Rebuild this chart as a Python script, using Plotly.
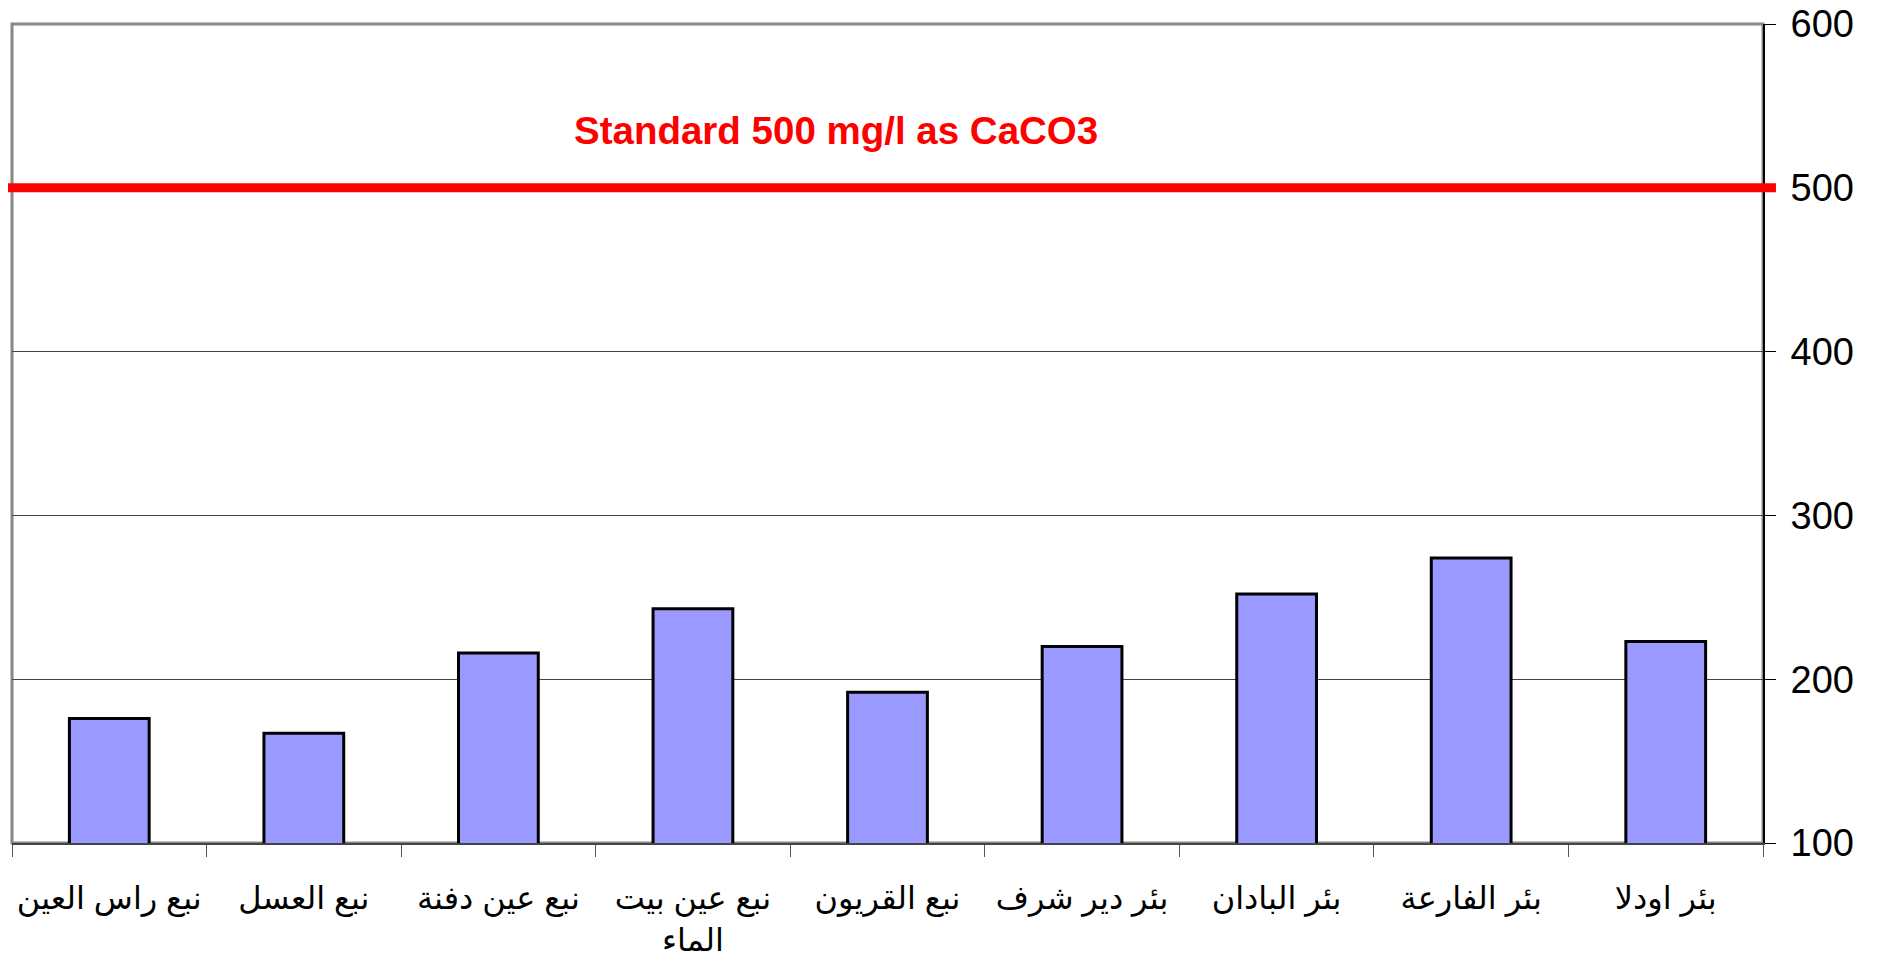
import plotly.graph_objects as go

categories = [
    "نبع راس العين",
    "نبع العسل",
    "نبع عين دفنة",
    "نبع عين بيت<br>الماء",
    "نبع القريون",
    "بئر دير شرف",
    "بئر البادان",
    "بئر الفارعة",
    "بئر اودلا",
]
values = [176, 167, 216, 243, 192, 220, 252, 274, 223]
standard_value = 500
standard_label = "Standard 500 mg/l as CaCO3"
y_ticks = [100, 200, 300, 400, 500, 600]

FONT = "Liberation Sans, Arial, DejaVu Sans, sans-serif"

fig = go.Figure()
fig.add_trace(go.Bar(
    x=categories,
    y=values,
    width=0.41,
    marker=dict(color="#9999FF", line=dict(color="black", width=3)),
    hoverinfo="x+y",
))

# plot border (top/left gray)
fig.add_shape(type="rect", xref="paper", yref="paper", x0=0, x1=1, y0=0, y1=1,
              line=dict(color="#888888", width=3), layer="below")

# standard line
fig.add_shape(type="line", xref="paper", yref="y", x0=-0.003, x1=1.0074,
              y0=standard_value, y1=standard_value,
              line=dict(color="#FF0000", width=9), layer="above")

fig.add_annotation(
    text="<b>" + standard_label + "</b>",
    xref="paper", yref="y", x=0.4706, y=535,
    showarrow=False, xanchor="center", yanchor="middle",
    font=dict(family=FONT, size=38.5, color="#FF0000"),
)

fig.update_layout(
    width=1871, height=962,
    margin=dict(l=4, r=116, t=16, b=127, autoexpand=False),
    paper_bgcolor="white", plot_bgcolor="white",
    showlegend=False,
    bargap=0.59,
    font=dict(family=FONT, color="black"),
)

fig.update_xaxes(
    type="category",
    automargin=False,
    tickson="boundaries",
    ticks="outside", ticklen=12, tickwidth=1, tickcolor="#555555",
    showline=True, linecolor="#444444", linewidth=2,
    showgrid=False,
    tickfont=dict(family=FONT, size=32, color="black"),
    ticklabelstandoff=26,
    ticklabeloverflow="allow",
    tickangle=0,
)

fig.update_yaxes(
    range=[100, 600],
    automargin=False,
    side="right",
    tickvals=y_ticks,
    ticks="outside", ticklen=11, tickwidth=1, tickcolor="black",
    showline=True, linecolor="black", linewidth=2,
    showgrid=True, gridcolor="#444444", gridwidth=1,
    zeroline=False,
    tickfont=dict(family=FONT, size=38, color="black"),
    ticklabelstandoff=7,
    ticklabeloverflow="allow",
)

fig.write_html("out.html")
